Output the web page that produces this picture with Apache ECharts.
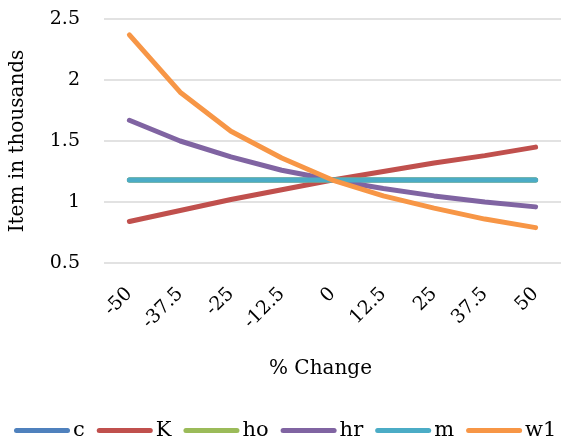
<!DOCTYPE html>
<html>
<head>
<meta charset="utf-8">
<script src="https://cdn.jsdelivr.net/npm/echarts@6/dist/echarts.min.js"></script>
<style>
html,body{margin:0;padding:0;background:#fff;}
#chart{width:561px;height:445px;}
</style>
</head>
<body>
<div id="chart"></div>
<script>
var categories = ['-50','-37.5','-25','-12.5','0','12.5','25','37.5','50'];
var c_vals  = [1.18,1.18,1.18,1.18,1.18,1.18,1.18,1.18,1.18];
var K_vals  = [0.84,0.93,1.02,1.10,1.18,1.25,1.32,1.38,1.45];
var ho_vals = [1.18,1.18,1.18,1.18,1.18,1.18,1.18,1.18,1.18];
var hr_vals = [1.67,1.50,1.37,1.26,1.18,1.11,1.05,1.00,0.96];
var m_vals  = [1.18,1.18,1.18,1.18,1.18,1.18,1.18,1.18,1.18];
var w1_vals = [2.37,1.90,1.58,1.36,1.18,1.05,0.95,0.86,0.79];
var yTicks = [0.5, 2.5, 0.5]; // min, max, interval

var seriesNames = ['c','K','ho','hr','m','w1'];
var seriesData = [c_vals, K_vals, ho_vals, hr_vals, m_vals, w1_vals];
var colors = ['#4F81BD','#C0504D','#9BBB59','#8064A2','#4BACC6','#F79646'];

var FONT = 'DejaVu Serif';
var chart = echarts.init(document.getElementById('chart'));
var iconPath = 'path://M2.5,0 L53.5,0 A2.5,2.5 0 0 1 53.5,5 L2.5,5 A2.5,2.5 0 0 1 2.5,0 Z';

chart.setOption({
  animation: false,
  color: colors,
  textStyle: {fontFamily: FONT, color: '#000'},
  grid: {left: 97, right: 0, top: 19, bottom: 182, containLabel: false},
  legend: {
    data: seriesNames.map(function(n){ return {name: n, icon: iconPath}; }),
    left: 14, top: 420, width: 547, padding: 0,
    itemWidth: 56, itemHeight: 5, itemGap: 12,
    textStyle: {fontFamily: FONT, fontSize: 21, color: '#000', padding: [0,0,0,-2]}
  },
  xAxis: {
    type: 'category',
    data: categories,
    boundaryGap: true,
    name: '% Change',
    nameLocation: 'middle',
    nameGap: 96,
    nameTextStyle: {fontFamily: FONT, fontSize: 20, color: '#000', padding: [0,24,0,0]},
    axisLine: {show: false},
    axisTick: {show: false},
    axisLabel: {rotate: 45, margin: 28, fontFamily: FONT, fontSize: 19, color: '#000'}
  },
  yAxis: {
    type: 'value',
    min: yTicks[0], max: yTicks[1], interval: yTicks[2],
    name: 'Item in thousands',
    nameLocation: 'middle',
    nameGap: 76,
    nameTextStyle: {fontFamily: FONT, fontSize: 20, color: '#000'},
    axisLine: {show: false},
    axisTick: {show: false},
    axisLabel: {margin: 24, fontFamily: FONT, fontSize: 19, color: '#000'},
    splitLine: {show: true, lineStyle: {color: '#d9d9d9', width: 1.5}}
  },
  series: seriesNames.map(function(n, i){
    return {
      name: n, type: 'line', data: seriesData[i],
      symbol: 'none', smooth: false,
      lineStyle: {width: 5, cap: 'round', join: 'round', color: colors[i]},
      itemStyle: {color: colors[i]}
    };
  })
});
</script>
</body>
</html>
